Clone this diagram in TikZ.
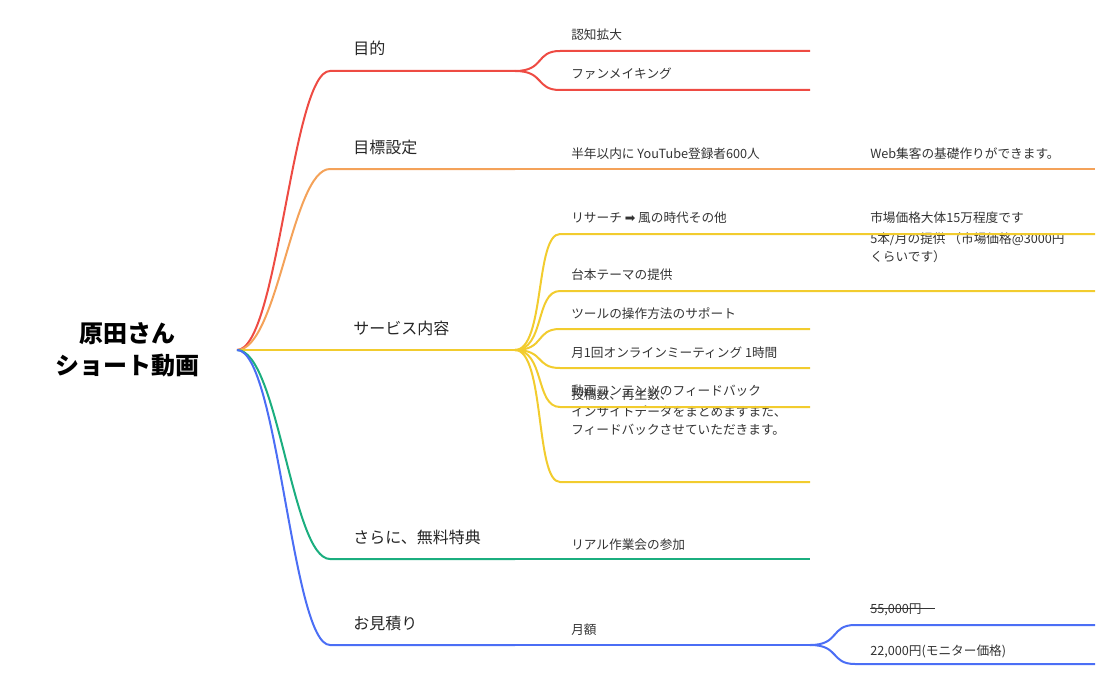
\documentclass[tikz,border=0pt]{standalone}
\usepackage{fontspec}
\setmainfont{Noto Sans CJK JP}
\newfontfamily\symfont{DejaVu Sans}
\usetikzlibrary{positioning}
\definecolor{cRed}{HTML}{EE4B43}
\definecolor{cOrange}{HTML}{F4A259}
\definecolor{cYellow}{HTML}{F2CC2E}
\definecolor{cGreen}{HTML}{1BAE7F}
\definecolor{cBlue}{HTML}{4B6EF5}
\tikzset{
  branch/.style={line width=1.5pt},
  topic/.style={anchor=base west,font=\fontsize{12}{14}\selectfont,text=black!85,inner sep=0pt},
  leaf/.style={anchor=base west,font=\fontsize{9.5}{13}\selectfont,text=black!80,inner sep=0pt,align=left}
}
\begin{document}
\begin{tikzpicture}[x=0.75pt,y=-0.75pt]
\useasboundingbox (0,0) rectangle (1112,688);
\node[font=\fontsize{18}{24}\selectfont\bfseries,align=center] (root) at (127,350) {原田さん\\ショート動画};
\coordinate (hub) at (237,350);
% level 1
\node[topic] (goal) at (353,55) {目的};
\node[topic] (target) at (353,153) {目標設定};
\node[topic] (service) at (353,334) {サービス内容};
\node[topic] (bonus) at (353,543) {さらに、無料特典};
\node[topic] (quote) at (353,629) {お見積り};
\foreach \y/\c/\n in {71/cRed/g,169/cOrange/t,350/cYellow/s,559/cGreen/b,645/cBlue/q}{
  \coordinate (\n1) at (330,\y);
  \coordinate (\n2) at (515,\y);
  \draw[branch,\c] (hub) .. controls (278,350) and (292,\y) .. (\n1) -- (\n2);
}
% level 2
\node[leaf] (aware) at (571,40) {認知拡大};
\node[leaf] (fan) at (571,79) {ファンメイキング};
\foreach \y in {51,90}
  \draw[branch,cRed] (g2) .. controls (545,71) and (535,\y) .. (560,\y) -- (810,\y);
\node[leaf] (yt) at (571,158) {半年以内に YouTube登録者600人};
\node[leaf] (web) at (870,158) {Web集客の基礎作りができます。};
\draw[branch,cOrange] (t2) -- (1095,169);
\node[leaf] (research) at (571,222) {リサーチ {\symfont ➡} 風の時代その他};
\node[leaf] (price) at (870,222) {市場価格大体15万程度です};
\node[leaf] (script) at (571,279) {台本テーマの提供};
\node[leaf] (five) at (870,261) {5本/月の提供 （市場価格@3000円\\くらいです）};
\node[leaf] (tool) at (571,318) {ツールの操作方法のサポート};
\node[leaf] (meet) at (571,357) {月1回オンラインミーティング 1時間};
\node[leaf] (feed) at (571,395) {動画コンテンツのフィードバック};
\node[leaf] (data) at (571,434) {投稿数、再生数、\\インサイトデータをまとめますまた、\\フィードバックさせていただきます。};
\foreach \y/\e in {234/1095,291/1095,329/810,368/810,407/810,482/810}
  \draw[branch,cYellow] (s2) .. controls (545,350) and (535,\y) .. (560,\y) -- (\e,\y);
\node[leaf] (real) at (571,549) {リアル作業会の参加};
\draw[branch,cGreen] (b2) -- (810,559);
\node[leaf] (month) at (571,634) {月額};
\coordinate (m2) at (810,645);
\draw[branch,cBlue] (q2) -- (m2);
\node[leaf] (old) at (870,613) {55,000円};
\draw[black!80,line width=0.8pt] ([yshift=3.5pt]old.base west) -- ([xshift=10pt,yshift=3.5pt]old.base east);
\node[leaf] (new) at (870,655) {22,000円(モニター価格)};
\foreach \y in {625,664}
  \draw[branch,cBlue] (m2) .. controls (840,645) and (830,\y) .. (855,\y) -- (1095,\y);
\end{tikzpicture}
\end{document}
